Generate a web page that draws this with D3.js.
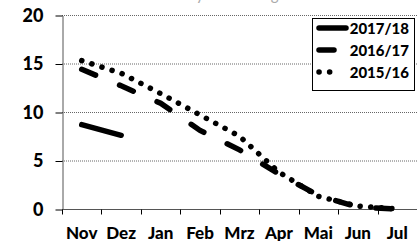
<!DOCTYPE html>
<html>
<head>
<meta charset="utf-8">
<script src="https://cdn.jsdelivr.net/npm/d3@7"></script>
<style>
  body { margin: 0; background: #fff; }
  svg { display: block; font-family: Lato, "DejaVu Sans", sans-serif; }
  .grid line { stroke: #666; stroke-dasharray: 1,1; }
</style>
</head>
<body>
<svg id="chart" width="417" height="241"></svg>
<script>
// values
var months = ["Nov", "Dez", "Jan", "Feb", "Mrz", "Apr", "Mai", "Jun", "Jul"];
var yTicks = [0, 5, 10, 15, 20];
var s1718 = [8.7, 7.6];
var s1617 = [14.4, 12.7, 10.9, 8.1, 6.1, 3.6, 1.4, 0.2, 0];
var s1516 = [15.3, 14.0, 11.9, 9.7, 7.5, 3.8, 1.3, 0.3, 0];
var seriesNames = ["2017/18", "2016/17", "2015/16"];

var svg = d3.select("#chart"),
    width = +svg.attr("width"),
    height = +svg.attr("height");

var margin = {left: 62, right: 0, top: 15, bottom: 32};

var x = d3.scaleBand()
    .domain(months)
    .range([margin.left, width - margin.right])
    .padding(0);

var y = d3.scaleLinear()
    .domain([0, 20])
    .range([height - margin.bottom, margin.top]);

// title, mostly cut off by the top edge (as in the original)
svg.append("text")
    .attr("x", 220)
    .attr("y", 0)
    .attr("text-anchor", "middle")
    .attr("fill", "#aaa")
    .attr("font-size", 15)
    .text("Sortenanteil Rayman im Lagerbestand");

// gridlines
svg.append("g")
    .attr("class", "grid")
  .selectAll("line")
  .data(yTicks.filter(function(d) { return d > 0; }))
  .enter().append("line")
    .attr("x1", margin.left)
    .attr("x2", width)
    .attr("y1", function(d) { return y(d) + 0.5; })
    .attr("y2", function(d) { return y(d) + 0.5; });

// axes
var yAxis = svg.append("g")
    .attr("transform", "translate(" + (margin.left + 0.5) + ",0.5)")
    .call(d3.axisLeft(y).tickValues(yTicks).tickSize(7).tickPadding(12).tickSizeOuter(0));
yAxis.selectAll("text")
    .attr("font-size", 18)
    .attr("font-weight", 900)
    .attr("fill", "#000")
    .style("font-family", "Lato");
yAxis.select(".domain").attr("stroke", "#555");

var xAxis = svg.append("g")
    .attr("transform", "translate(0," + (y(0) + 0.5) + ")");
xAxis.append("line")
    .attr("x1", margin.left)
    .attr("x2", width)
    .attr("stroke", "#555");
xAxis.selectAll(".tick")
  .data(months)
  .enter().append("line")
    .attr("x1", function(d) { return Math.round(x(d)) + 0.5; })
    .attr("x2", function(d) { return Math.round(x(d)) + 0.5; })
    .attr("y1", 0)
    .attr("y2", 5)
    .attr("stroke", "#000");
xAxis.selectAll("text")
  .data(months)
  .enter().append("text")
    .attr("x", function(d) { return x(d) + x.bandwidth() / 2; })
    .attr("y", 29)
    .attr("text-anchor", "middle")
    .attr("font-size", 17)
    .attr("font-weight", 900)
    .text(function(d) { return d; });

// lines
var line = d3.line()
    .x(function(d, i) { return x(months[i]) + x.bandwidth() / 2; })
    .y(function(d) { return y(d); });

var styles = [
  {data: s1718, dash: null},
  {data: s1617, dash: "15,26"},
  {data: s1516, dash: "0.1,10.5"}
];

svg.append("g").selectAll("path")
  .data(styles.slice().reverse())
  .enter().append("path")
    .attr("d", function(d) { return line(d.data); })
    .attr("fill", "none")
    .attr("stroke", "#000")
    .attr("stroke-width", 5.5)
    .attr("stroke-linecap", "round")
    .attr("stroke-dasharray", function(d) { return d.dash; });

// legend
var legend = svg.append("g").attr("class", "legend");
legend.append("rect")
    .attr("x", 312.5)
    .attr("y", 18.5)
    .attr("width", 102)
    .attr("height", 72)
    .attr("fill", "#fff")
    .attr("stroke", "#000");

var rows = legend.selectAll("g.row")
  .data(styles)
  .enter().append("g")
    .attr("class", "row")
    .attr("transform", function(d, i) { return "translate(0," + (28 + i * 22) + ")"; });

rows.append("line")
    .attr("x1", 319)
    .attr("x2", function(d, i) { return i == 0 ? 346 : (i == 1 ? 335 : 340); })
    .attr("stroke", "#000")
    .attr("stroke-width", 5.5)
    .attr("stroke-linecap", "round")
    .attr("stroke-dasharray", function(d) { return d.dash; });

rows.append("text")
    .attr("x", 409)
    .attr("y", 5.5)
    .attr("text-anchor", "end")
    .attr("font-size", 15)
    .attr("font-weight", 900)
    .text(function(d, i) { return seriesNames[i]; });
</script>
</body>
</html>
